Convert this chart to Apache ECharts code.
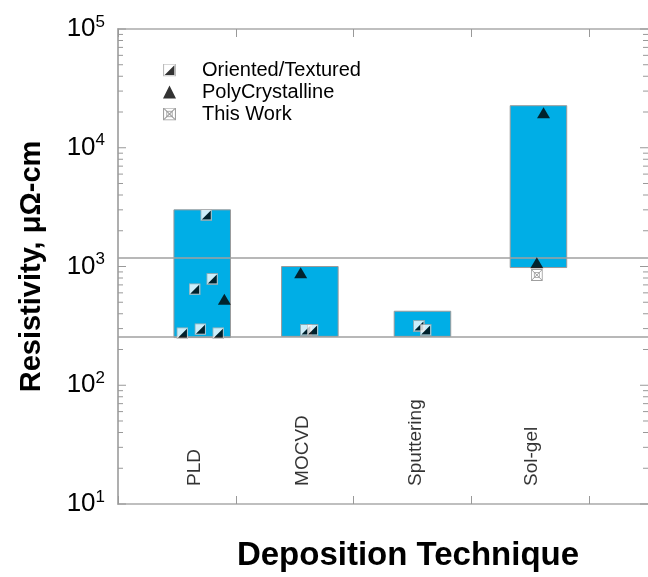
<!DOCTYPE html>
<html>
<head>
<meta charset="utf-8">
<script src="https://cdn.jsdelivr.net/npm/echarts@6/dist/echarts.min.js"></script>
<style>html,body{margin:0;padding:0;background:#fff;}#c{width:648px;height:577px;}</style>
</head>
<body>
<div id="c"></div>
<script>
// ---- data ----
const categories = ['PLD', 'MOCVD', 'Sputtering', 'Sol-gel'];
const barCenter = [0.715, 1.629, 2.585, 3.570];
const barLow = [252, 258, 258, 980];
const barHigh = [3000, 1000, 420, 22600];
const orientedX = [0.750, 0.801, 0.651, 0.547, 0.700, 0.852, 1.596, 1.652, 2.555, 2.612];
const orientedY = [2720, 785, 643, 274, 296, 274, 292, 292, 315, 292];
const polyX = [0.903, 1.551, 3.613, 3.556];
const polyY = [530, 887, 19700, 1076];
const thisWorkX = [3.556];
const thisWorkY = [848];
const refLines = [1190, 255];
const yTicks = [10, 100, 1000, 10000, 100000];

// ---- helpers ----
const FONT = 'Liberation Sans, Arial, sans-serif';
const X_MIN = 0, X_MAX = 4.5;
const GRAY = '#999';
function svgUri(s) { return 'image://data:image/svg+xml;charset=utf-8,' + encodeURIComponent(s); }
const orientedSym = svgUri("<svg xmlns='http://www.w3.org/2000/svg' width='24' height='24' viewBox='0 0 12 12'><rect x='0.5' y='0.5' width='11' height='11' fill='white' stroke='#aaa' stroke-width='1'/><polygon points='10.5,1.5 10.5,10.5 1.5,10.5' fill='black'/></svg>");
const thisWorkSym = svgUri("<svg xmlns='http://www.w3.org/2000/svg' width='24' height='24' viewBox='0 0 12 12'><rect x='0.5' y='0.5' width='11' height='11' fill='white' stroke='#888' stroke-width='1'/><path d='M1 1 L11 11 M11 1 L1 11' stroke='#888' stroke-width='1'/><rect x='3.5' y='3.5' width='5' height='5' fill='none' stroke='#888' stroke-width='0.8'/></svg>");

const zip = (xs, ys) => xs.map((x, i) => [x, ys[i]]);
const minorVals = [];
for (let i = 0; i < yTicks.length - 1; i++) {
  for (let k = 2; k <= 9; k++) minorVals.push([X_MIN, yTicks[i] * k]);
}
const majorVals = yTicks.map(v => [X_MIN, v]);
const barData = categories.map((c, i) => [barCenter[i], barLow[i], barHigh[i]]);
const labelData = categories.map((c, i) => ({ name: c, value: [barCenter[i] - 0.06, 14.2] }));

const chart = echarts.init(document.getElementById('c'), null, { renderer: 'canvas' });
chart.setOption({
  animation: false,
  textStyle: { fontFamily: FONT },
  grid: { left: 118, top: 29, width: 532, height: 475, containLabel: false },
  legend: {
    orient: 'vertical', left: 158, top: 55, itemWidth: 13, itemHeight: 13, itemGap: 2,
    textStyle: { fontSize: 20, color: '#000', fontFamily: FONT, padding: [0, 0, 0, 21] },
    data: [
      { name: 'Oriented/Textured', icon: orientedSym },
      { name: 'PolyCrystalline', icon: 'triangle' },
      { name: 'This Work', icon: thisWorkSym }
    ]
  },
  xAxis: [
    {
      type: 'value', min: X_MIN, max: X_MAX, interval: 1, position: 'bottom',
      axisLine: { lineStyle: { color: '#aaa', width: 1.5 } },
      axisTick: { inside: true, length: 8, lineStyle: { color: GRAY } },
      axisLabel: { show: false }, splitLine: { show: false },
      name: 'Deposition Technique', nameLocation: 'middle', nameGap: 35,
      nameTextStyle: { fontSize: 33, fontWeight: 'bold', color: '#000', fontFamily: FONT, padding: [0, 0, 0, 50] }
    },
    {
      type: 'value', min: X_MIN, max: X_MAX, interval: 1, position: 'top',
      axisLine: { lineStyle: { color: '#aaa', width: 1.5 } },
      axisTick: { inside: true, length: 8, lineStyle: { color: GRAY } },
      axisLabel: { show: false }, splitLine: { show: false }
    }
  ],
  yAxis: [
    {
      type: 'log', logBase: 10, min: 10, max: 100000, position: 'left',
      axisLine: { show: true, lineStyle: { color: '#aaa', width: 1.5 } },
      axisTick: { show: false },
      splitLine: { show: false },
      axisLabel: {
        margin: 13, color: '#000',
        formatter: v => '{b|10}{s|' + Math.round(Math.log10(v)) + '}',
        rich: {
          b: { fontSize: 26, fontFamily: FONT, color: '#000' },
          s: { fontSize: 17, fontFamily: FONT, color: '#000', padding: [0, 0, 14, 0] }
        }
      },
      name: 'Resistivity, μΩ-cm', nameLocation: 'middle', nameGap: 72,
      nameTextStyle: { fontSize: 29, fontWeight: 'bold', color: '#000', fontFamily: FONT }
    },
    {
      type: 'log', logBase: 10, min: 10, max: 100000, position: 'right',
      axisLine: { show: true, lineStyle: { color: '#aaa', width: 1.5 } },
      axisTick: { show: false }, axisLabel: { show: false }, splitLine: { show: false }
    }
  ],
  series: [
    {
      name: 'bars', type: 'custom', z: 2, silent: true,
      data: barData,
      renderItem: (params, api) => {
        const half = 0.24;
        const p1 = api.coord([api.value(0) - half, api.value(2)]);
        const p2 = api.coord([api.value(0) + half, api.value(1)]);
        return { type: 'rect', shape: { x: p1[0], y: p1[1], width: p2[0] - p1[0], height: p2[1] - p1[1] },
                 style: { fill: '#00AEE6', stroke: '#9a9a9a', lineWidth: 1 } };
      },
      markLine: {
        silent: true, symbol: 'none', label: { show: false }, z: 3,
        lineStyle: { color: '#a0a0a0', width: 1.5, type: 'solid' },
        data: refLines.map(v => ({ yAxis: v }))
      }
    },
    {
      name: 'ticks', type: 'custom', z: 4, silent: true, clip: false,
      data: minorVals.map(d => d.concat([5])).concat(majorVals.map(d => d.concat([8]))),
      renderItem: (params, api) => {
        const v = api.value(1), len = api.value(2);
        const l = api.coord([X_MIN, v]), r = api.coord([X_MAX, v]);
        return { type: 'group', children: [
          { type: 'line', shape: { x1: l[0], y1: l[1], x2: l[0] + len, y2: l[1] }, style: { stroke: GRAY, lineWidth: 1 } },
          { type: 'line', shape: { x1: r[0] - len, y1: r[1], x2: r[0], y2: r[1] }, style: { stroke: GRAY, lineWidth: 1 } }
        ] };
      }
    },
    {
      name: 'labels', type: 'scatter', symbolSize: 0, silent: true, z: 5,
      data: labelData,
      label: { show: true, formatter: p => p.name, position: 'inside', rotate: 90, align: 'left', verticalAlign: 'middle',
               fontSize: 19, color: '#000', fontFamily: FONT }
    },
    { name: 'Oriented/Textured', type: 'scatter', z: 6, symbol: orientedSym, symbolSize: 12, data: zip(orientedX, orientedY), itemStyle: { color: '#000' } },
    { name: 'PolyCrystalline', type: 'scatter', z: 6, symbol: 'triangle', symbolSize: [13, 11], data: zip(polyX, polyY), itemStyle: { color: '#000' } },
    { name: 'This Work', type: 'scatter', z: 6, symbol: thisWorkSym, symbolSize: 12, data: zip(thisWorkX, thisWorkY), itemStyle: { color: '#888' } }
  ]
});
</script>
</body>
</html>
